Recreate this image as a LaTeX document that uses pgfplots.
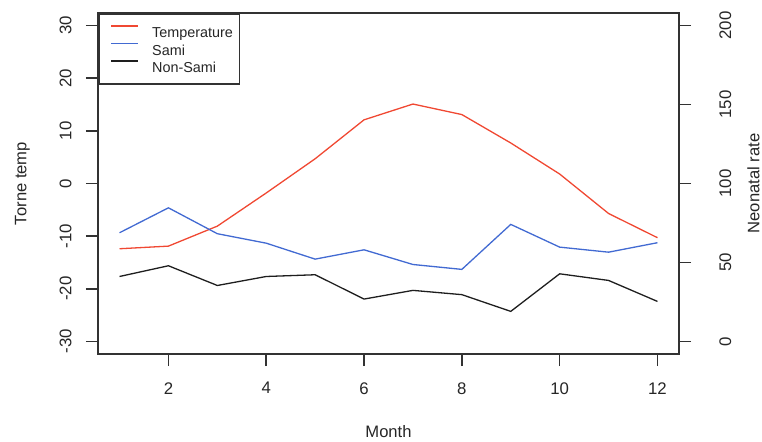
\documentclass[border=0pt]{standalone}
\usepackage{fontspec}
\setmainfont{Liberation Sans}
\usepackage{pgfplots}
\pgfplotsset{compat=1.18}
\definecolor{tred}{RGB}{240,72,50}
\definecolor{sblue}{RGB}{66,106,210}
\definecolor{nblack}{RGB}{30,30,30}
\definecolor{framec}{RGB}{50,50,50}
\begin{document}
\begin{tikzpicture}
\useasboundingbox (0,0) rectangle (381pt,220.5pt);
\begin{axis}[
 at={(49pt,43.5pt)}, anchor=south west,
 width=290.5pt, height=170.5pt, scale only axis,
 xmin=0.56, xmax=12.44, ymin=-32.4, ymax=32.4,
 xtick={2,4,6,8,10,12}, ytick={-30,-20,-10,0,10,20,30},
 xtick pos=bottom, ytick pos=left,
 tick align=outside, major tick length=6pt,
 axis line style={framec, line width=0.8pt},
 every tick/.style={framec, line width=0.8pt},
 tick label style={font=\fontsize{8.4}{9}\selectfont, inner sep=0pt, text=black!85},
 /pgf/number format/assume math mode=true,
 xticklabel style={anchor=north},
 yticklabel style={rotate=90, anchor=south},
 xticklabel shift=8pt, yticklabel shift=7pt,
 xlabel={Month}, ylabel={Torne temp},
 label style={font=\fontsize{8.3}{9}\selectfont, inner sep=0pt, text=black!85},
 xlabel style={at={(axis description cs:0.5,-0.2463)}, anchor=base},
 ylabel style={at={(axis description cs:-0.1231,0.5)}, anchor=base},
 legend style={at={(0,1)}, anchor=north west, draw=framec, line width=0.8pt,
   inner xsep=3.3pt, inner ysep=4.375pt, font=\fontsize{7.2}{8}\selectfont,
   nodes={inner xsep=0pt, inner ysep=0.375pt, text height=7.35pt, text depth=0.65pt, text=black!85},
   row sep=0pt, column sep=6.5pt},
 legend cell align=left,
 legend image code/.code={\path (0pt,2.6pt) -- (0pt,2.6pt);\draw[#1, line width=0.7pt] (2.7pt,2.6pt) -- (16.2pt,2.6pt);},
]
\addplot[tred, line width=0.65pt] coordinates {
(1,-12.4) (2,-11.9) (3,-8.1) (4,-1.8) (5,4.7) (6,12.1)
(7,15.1) (8,13.1) (9,7.7) (10,1.8) (11,-5.7) (12,-10.3)};
\addlegendentry{Temperature}
\addlegendimage{sblue, line width=0.65pt}
\addlegendentry{Sami}
\addlegendimage{nblack, line width=0.65pt}
\addlegendentry{Non-Sami}
\end{axis}
\begin{axis}[
 at={(49pt,43.5pt)}, anchor=south west,
 width=290.5pt, height=170.5pt, scale only axis,
 xmin=0.56, xmax=12.44, ymin=-8, ymax=208,
 hide x axis, axis y line*=right,
 ytick={0,50,100,150,200},
 tick align=outside, major tick length=6pt,
 axis line style={framec, line width=0.8pt},
 every tick/.style={framec, line width=0.8pt},
 tick label style={font=\fontsize{8.4}{9}\selectfont, inner sep=0pt, text=black!85},
 /pgf/number format/assume math mode=true,
 yticklabel style={xshift=14pt, rotate=90, anchor=north},
 ylabel={Neonatal rate},
 label style={font=\fontsize{8.3}{9}\selectfont, inner sep=0pt, text=black!85},
 ylabel style={at={(axis description cs:1.117,0.5)}, anchor=north},
]
\addplot[sblue, line width=0.65pt] coordinates {
(1,68.8) (2,84.6) (3,68.2) (4,62.2) (5,52.1) (6,58.0)
(7,48.7) (8,45.6) (9,74.1) (10,59.7) (11,56.5) (12,62.5)};
\addplot[nblack, line width=0.65pt] coordinates {
(1,41.1) (2,47.9) (3,35.4) (4,41.1) (5,42.2) (6,26.8)
(7,32.3) (8,29.6) (9,19.0) (10,42.8) (11,38.6) (12,25.3)};
\end{axis}
\end{tikzpicture}
\end{document}
